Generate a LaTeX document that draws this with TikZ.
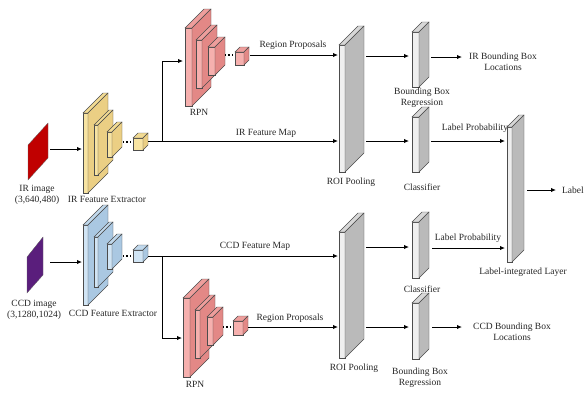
\documentclass[tikz,border=0pt]{standalone}
\usepackage{fontspec}
\setmainfont{Liberation Serif}
\usetikzlibrary{arrows.meta}
\definecolor{yfront}{HTML}{F8E4A2}
\definecolor{yside}{HTML}{EBCF84}
\definecolor{ytop}{HTML}{F2DB93}
\definecolor{bfront}{HTML}{D1E5F5}
\definecolor{bside}{HTML}{AAC8E2}
\definecolor{btop}{HTML}{C0D8EC}
\definecolor{rfront}{HTML}{F6B0AE}
\definecolor{rside}{HTML}{E38886}
\definecolor{rtop}{HTML}{EE9E9C}
\definecolor{gfront}{HTML}{EFEFEF}
\definecolor{gside}{HTML}{BABABA}
\definecolor{gtop}{HTML}{D7D7D7}
\definecolor{irred}{HTML}{C00000}
\definecolor{ccdpurple}{HTML}{5A1E7C}
\newcommand\cnnbox[8]{%
  \filldraw[edge,fill=#6] (#1,#2) rectangle ++(#3,#4);
  \filldraw[edge,fill=#8] (#1,#2) -- ++(#5,-#5) -- ++(#3,0) -- ++(-#5,#5) -- cycle;
  \filldraw[edge,fill=#7] ({#1+#3},#2) -- ++(#5,-#5) -- ++(0,#4) -- ++(-#5,#5) -- cycle;
}
\begin{document}
\begin{tikzpicture}[x=1pt,y=-1pt,
  edge/.style={draw=black!70,line width=0.4pt},
  arr/.style={-{Latex[length=5pt,width=4.5pt]},line width=1pt},
  ln/.style={line width=1pt},
  dots/.style={line width=1.2pt,dash pattern=on 1.2pt off 2.2pt},
  lab/.style={font=\fontsize{9.5}{11}\selectfont,inner sep=0pt,text=black!85,align=center}]
\useasboundingbox (0,0) rectangle (585,397);
% ---------------- input images ----------------
\fill[irred,draw=black!60,line width=0.3pt] (28,145) -- (48,123) -- (48,158) -- (28,180) -- cycle;
\fill[ccdpurple,draw=black!60,line width=0.3pt] (27,257) -- (43,237) -- (43,275) -- (27,293) -- cycle;
\node[lab] (irimg) at (37,194.5) {IR image\\(3,640,480)};
\node[lab] (ccdimg) at (34,309.5) {CCD image\\(3,1280,1024)};
% ---------------- IR feature extractor ----------------
\cnnbox{83}{113}{5}{80}{20}{yfront}{yside}{ytop}
\cnnbox{94}{125}{4}{50}{15}{yfront}{yside}{ytop}
\cnnbox{107}{132}{5}{25}{10}{yfront}{yside}{ytop}
\cnnbox{133}{138}{10}{12}{5}{yfront}{yside}{ytop}
\node[lab] (irfe) at (107,199) {IR Feature Extractor};
% ---------------- CCD feature extractor ----------------
\cnnbox{83}{225}{5}{80}{20}{bfront}{bside}{btop}
\cnnbox{94}{237}{4}{50}{15}{bfront}{bside}{btop}
\cnnbox{107}{244}{5}{25}{10}{bfront}{bside}{btop}
\cnnbox{133}{250}{10}{12}{5}{bfront}{bside}{btop}
\node[lab] (ccdfe) at (113,313) {CCD Feature Extractor};
% ---------------- RPN top ----------------
\cnnbox{185}{28}{7}{78}{19}{rfront}{rside}{rtop}
\cnnbox{196}{40}{6}{48}{15}{rfront}{rside}{rtop}
\cnnbox{208}{47}{7}{28}{10}{rfront}{rside}{rtop}
\cnnbox{235}{52}{9}{13}{5}{rfront}{rside}{rtop}
\node[lab] (rpn1) at (199,112) {RPN};
% ---------------- RPN bottom ----------------
\cnnbox{183}{298}{7}{79}{19}{rfront}{rside}{rtop}
\cnnbox{195}{310}{5}{48}{15}{rfront}{rside}{rtop}
\cnnbox{207}{317}{6}{28}{10}{rfront}{rside}{rtop}
\cnnbox{233}{321}{10}{14}{5}{rfront}{rside}{rtop}
\node[lab] (rpn2) at (195,384) {RPN};
% ---------------- ROI pooling ----------------
\cnnbox{339}{45}{6}{127}{19}{gfront}{gside}{gtop}
\cnnbox{339}{232}{6}{126}{19}{gfront}{gside}{gtop}
\node[lab] (roi1) at (351,182) {ROI Pooling};
\node[lab] (roi2) at (354,368) {ROI Pooling};
% ---------------- heads ----------------
\cnnbox{412}{32}{7}{55}{10}{gfront}{gside}{gtop}
\cnnbox{412}{117}{7}{55}{10}{gfront}{gside}{gtop}
\cnnbox{412}{222}{7}{56}{10}{gfront}{gside}{gtop}
\cnnbox{412}{303}{7}{56}{10}{gfront}{gside}{gtop}
\cnnbox{507}{127}{5}{135}{12}{gfront}{gside}{gtop}
\node[lab] (bbr1) at (422,97.5) {Bounding Box\\Regression};
\node[lab] (cls1) at (422,187) {Classifier};
\node[lab] (cls2) at (422,289) {Classifier};
\node[lab] (bbr2) at (420,377.5) {Bounding Box\\Regression};
\node[lab] (lil) at (523,272) {Label-integrated Layer};
\node[lab] (irloc) at (503,62) {IR Bounding Box\\Locations};
\node[lab] (ccdloc) at (512,332) {CCD Bounding Box\\Locations};
\node[lab,anchor=east] (lbl) at (584,190) {Label};
% ---------------- edge labels ----------------
\node[lab] (rp1) at (293,45) {Region Proposals};
\node[lab] (irfm) at (266,133) {IR Feature Map};
\node[lab] (lp1) at (475,128) {Label Probability};
\node[lab] (ccdfm) at (255,246) {CCD Feature Map};
\node[lab] (rp2) at (290,318) {Region Proposals};
\node[lab] (lp2) at (468,238) {Label Probability};
% ---------------- connector end points ----------------
\coordinate (irimgR) at (50,149);  \coordinate (irfeL) at (82,149);
\coordinate (ycubeR) at (148,141); \coordinate (jir) at (162,141);
\coordinate (jirUp) at (162,61);   \coordinate (rpn1L) at (183,61);
\coordinate (roi1Lb) at (338,141);
\coordinate (rc1R) at (250,55);    \coordinate (roi1La) at (338,55);
\coordinate (roi1Ra) at (366,56);  \coordinate (bbr1L) at (409,56);
\coordinate (roi1Rb) at (366,141); \coordinate (cls1L) at (409,141);
\coordinate (bbr1R) at (431,57);   \coordinate (irlocL) at (462,57);
\coordinate (cls1R) at (431,141);  \coordinate (lilLa) at (505,141);
\coordinate (lilR) at (527,190);   \coordinate (lblL) at (556,190);
\coordinate (ccdimgR) at (50,262); \coordinate (ccdfeL) at (82,262);
\coordinate (bcubeR) at (148,256); \coordinate (jccd) at (162,256);
\coordinate (jccdDn) at (162,338); \coordinate (rpn2L) at (182,338);
\coordinate (roi2La) at (338,256);
\coordinate (rc2R) at (248,327);   \coordinate (roi2Lb) at (338,327);
\coordinate (roi2Ra) at (366,247); \coordinate (cls2L) at (409,247);
\coordinate (roi2Rb) at (366,327); \coordinate (bbr2L) at (409,327);
\coordinate (cls2R) at (432,248);  \coordinate (lilLb) at (505,248);
\coordinate (bbr2R) at (432,327);  \coordinate (ccdlocL) at (462,327);
\coordinate (y3R) at (123,142);    \coordinate (ycubeL) at (132,142);
\coordinate (r3R) at (225,55);     \coordinate (rcubeL) at (234,55);
\coordinate (b3R) at (123,256);    \coordinate (bcubeL) at (132,256);
\coordinate (r4R) at (223,327);    \coordinate (rcube2L) at (232,327);
% ---------------- connectors ----------------
\draw[arr] (irimgR) -- (irfeL);
\draw[arr] (ycubeR) -- (roi1Lb);
\draw[ln] (jir) -- (jirUp);
\draw[arr] (jirUp) -- (rpn1L);
\draw[arr] (rc1R) -- (roi1La);
\draw[arr] (roi1Ra) -- (bbr1L);
\draw[arr] (roi1Rb) -- (cls1L);
\draw[arr] (bbr1R) -- (irlocL);
\draw[arr] (cls1R) -- (lilLa);
\draw[arr] (lilR) -- (lblL);
\draw[arr] (ccdimgR) -- (ccdfeL);
\draw[arr] (bcubeR) -- (roi2La);
\draw[ln] (jccd) -- (jccdDn);
\draw[arr] (jccdDn) -- (rpn2L);
\draw[arr] (rc2R) -- (roi2Lb);
\draw[arr] (roi2Ra) -- (cls2L);
\draw[arr] (roi2Rb) -- (bbr2L);
\draw[arr] (cls2R) -- (lilLb);
\draw[arr] (bbr2R) -- (ccdlocL);
\draw[dots] (y3R) -- (ycubeL);
\draw[dots] (r3R) -- (rcubeL);
\draw[dots] (b3R) -- (bcubeL);
\draw[dots] (r4R) -- (rcube2L);
\end{tikzpicture}
\end{document}
